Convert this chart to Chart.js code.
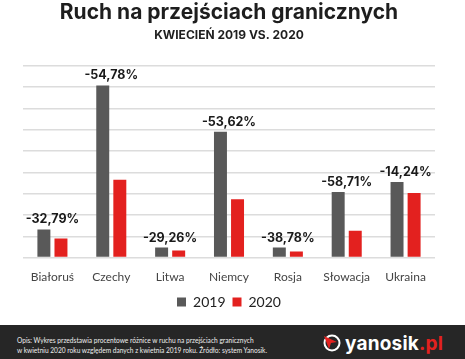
<!DOCTYPE html>
<html>
<head>
<meta charset="utf-8">
<script src="https://cdn.jsdelivr.net/npm/chart.js@4"></script>
<style>
  html, body { margin: 0; padding: 0; background: #fff; }
  #wrap { width: 465px; height: 359px; position: relative; overflow: hidden; }
  #box { position: absolute; left: 0; top: 0; width: 465px; height: 325px; }
  #footer {
    position: absolute; left: 0; top: 325px; width: 465px; height: 34px;
    background: #262626; color: #eee; font-family: 'Lato', sans-serif;
  }
  #opis { position: absolute; left: 17px; top: 11px; font-size: 6.6px; line-height: 9.5px; }
  #logo { position: absolute; left: 323px; top: 8px; height: 20px; display: flex; align-items: center; }
  #logo span { font-family: 'Inter', sans-serif; font-weight: 700; font-size: 19px; color: #fff; letter-spacing: 0.2px; }
  #logo span b { color: #e3211f; font-weight: 700; }
</style>
</head>
<body>
<div id="wrap">
  <div id="box"><canvas id="myChart"></canvas></div>
  <div id="footer">
    <div id="opis">Opis: Wykres przedstawia procentowe różnice w ruchu na przejściach granicznych<br>w kwietniu 2020 roku względem danych z kwietnia 2019 roku. Źródło: system Yanosik.</div>
    <div id="logo">
      <svg width="18" height="18" viewBox="0 0 18 18" style="margin-right:4px">
        <circle cx="9" cy="9" r="7.5" fill="none" stroke="#fff" stroke-width="2"/>
        <path d="M1 2 L14 8 L8 9 L6 15 Z" fill="#e3211f"/>
      </svg>
      <span>yanosik<b>.pl</b></span>
    </div>
  </div>
</div>
<script>
'use strict';

// data
let countries = ['Białoruś', 'Czechy', 'Litwa', 'Niemcy', 'Rosja', 'Słowacja', 'Ukraina'];
let values2019 = [1.32, 8.07, 0.47, 5.9, 0.47, 3.07, 3.54];
let values2020 = [0.89, 3.65, 0.33, 2.74, 0.29, 1.26, 3.03];
let changeLabels = ['-32,79%', '-54,78%', '-29,26%', '-53,62%', '-38,78%', '-58,71%', '-14,24%'];

let grayColor = '#595959';
let redColor = '#e3211f';

// writes the % change above each pair of bars
let changeLabelPlugin = {
    id: 'changeLabels',
    afterDatasetsDraw(chart) {
        let ctx = chart.ctx;
        let meta = chart.getDatasetMeta(0);
        let xScale = chart.scales.x;
        ctx.save();
        ctx.font = 'bold 12.5px Inter, sans-serif';
        ctx.fillStyle = '#1a1a1a';
        ctx.textAlign = 'center';
        ctx.textBaseline = 'alphabetic';
        for (let i = 0; i < meta.data.length; i++) {
            let bar = meta.data[i];
            ctx.fillText(changeLabels[i], xScale.getPixelForValue(i), bar.y - 6);
        }
        ctx.restore();
    }
};

let chartObject = {
    type: 'bar',
    data: {
        labels: countries,
        datasets: [{
            label: '2019',
            data: values2019,
            backgroundColor: grayColor
        },
        {
            label: '2020',
            data: values2020,
            backgroundColor: redColor
        }]
    },
    options: {
        responsive: false,
        animation: false,
        categoryPercentage: 0.58,
        barPercentage: 0.76,
        layout: {
            padding: { left: 23, right: 30, top: 0, bottom: 6 }
        },
        plugins: {
            title: {
                display: true,
                text: 'Ruch na przejściach granicznych',
                color: '#1e1e1e',
                font: { family: 'Inter, sans-serif', size: 21, weight: 'bold' },
                padding: { top: 0, bottom: 3 }
            },
            subtitle: {
                display: true,
                text: 'KWIECIEŃ 2019 VS. 2020',
                color: '#1e1e1e',
                font: { family: 'Inter, sans-serif', size: 12, weight: 'bold' },
                padding: { top: 0, bottom: 23 }
            },
            legend: {
                position: 'bottom',
                labels: {
                    boxWidth: 9,
                    boxHeight: 9,
                    padding: 7,
                    color: '#222',
                    font: { family: 'Lato, sans-serif', size: 14 }
                }
            },
            tooltip: { enabled: false }
        },
        scales: {
            x: {
                grid: { display: false },
                border: { display: false },
                ticks: {
                    color: '#444',
                    padding: 4,
                    font: { family: 'Lato, sans-serif', size: 12 }
                }
            },
            y: {
                min: 0,
                max: 9,
                ticks: { display: false, stepSize: 1 },
                border: { display: false },
                grid: { color: '#dcdcdc', lineWidth: 1.5, drawTicks: false }
            }
        }
    },
    plugins: [changeLabelPlugin]
};

let canvas = document.getElementById('myChart');
canvas.width = 465;
canvas.height = 325;
let ctx = canvas.getContext('2d');
let myChart = new Chart(ctx, chartObject);
</script>
</body>
</html>
